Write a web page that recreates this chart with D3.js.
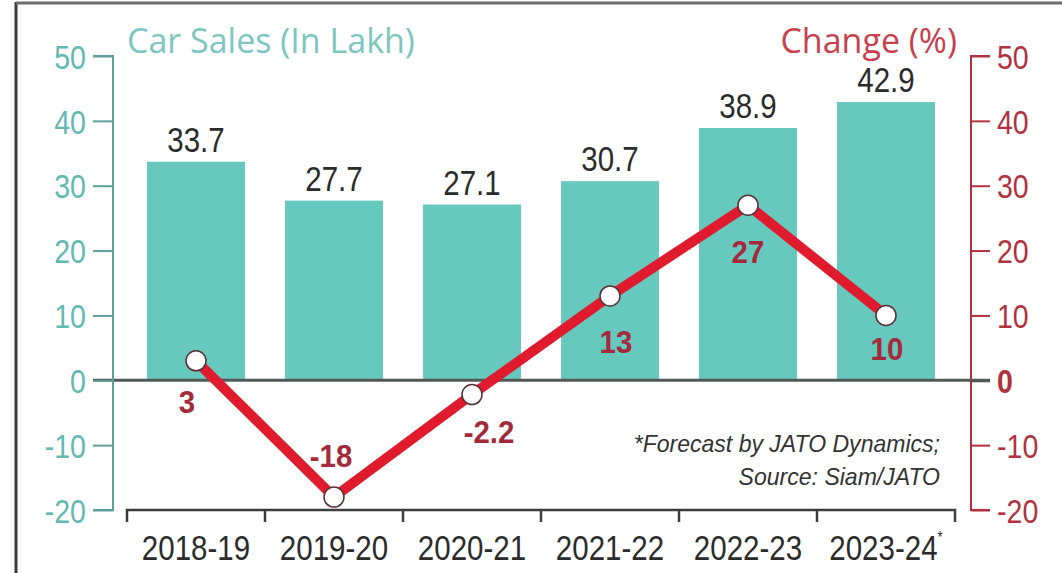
<!DOCTYPE html>
<html>
<head>
<meta charset="utf-8">
<script src="https://cdn.jsdelivr.net/npm/d3@7"></script>
<style>
  html, body { margin: 0; padding: 0; background: #fff; }
  svg { display: block; }
</style>
</head>
<body>
<svg id="chart" width="1062" height="573"></svg>
<script>
// ---- data ----
const categories = ["2018-19", "2019-20", "2020-21", "2021-22", "2022-23", "2023-24"];
const sales = [33.7, 27.7, 27.1, 30.7, 38.9, 42.9];
const change = [3, -18, -2.2, 13, 27, 10];
const changeLabels = ["3", "-18", "-2.2", "13", "27", "10"];
const yTicks = [-20, -10, 0, 10, 20, 30, 40, 50];
const forecastMark = [false, false, false, false, false, true];

// ---- styles / layout ----
const W = 1062, H = 573;
const SANS = '"Liberation Sans", Arial, sans-serif';
const TITLE_FONT = '"Open Sans", sans-serif';
const TEAL = "#67c8bd", TEAL_TXT = "#62b9b1", TEAL_AXIS = "#5f9e9c";
const RED = "#e11b2e", RED_TXT = "#a32a3b", RED_AXIS = "#b2313f", RED_TITLE = "#c8404e";
const DARK = "#2b2b2b";
// label offsets relative to each point (style, px)
const labelOffsets = [[-9, 52], [-3, -30], [17, 48], [6, 57], [0, 58], [1, 45]];

// condense text horizontally (emulates a narrow typeface)
function condense(sel, s) {
  sel.each(function () {
    const t = d3.select(this);
    const x = +t.attr("x") || 0, y = +t.attr("y") || 0;
    t.attr("x", 0).attr("y", 0).attr("transform", `translate(${x},${y}) scale(${s},1)`);
  });
}

const svg = d3.select("#chart");

// frame lines
svg.append("line").attr("x1", 16).attr("x2", 16).attr("y1", 2).attr("y2", H).attr("stroke", "#3a3a3a").attr("stroke-width", 3);
svg.append("line").attr("x1", 16).attr("x2", W).attr("y1", 3).attr("y2", 3).attr("stroke", "#6a6a6a").attr("stroke-width", 3);

const x = d3.scaleBand().domain(categories).range([127, 955]).paddingInner(0.29).paddingOuter(0.145);
const y = d3.scaleLinear().domain([-20, 50]).range([510, 56]);
const step = x.step();

// bars
svg.append("g").selectAll("rect").data(categories).join("rect")
  .attr("x", d => x(d))
  .attr("width", x.bandwidth())
  .attr("y", (d, i) => y(sales[i]))
  .attr("height", (d, i) => y(0) - y(sales[i]))
  .attr("fill", TEAL);

// bar value labels
svg.append("g").selectAll("text").data(categories).join("text")
  .attr("x", d => x(d) + x.bandwidth() / 2)
  .attr("y", (d, i) => y(sales[i]) - 10)
  .attr("text-anchor", "middle")
  .attr("font-family", SANS)
  .attr("font-size", 36)
  .attr("fill", DARK)
  .text((d, i) => sales[i].toFixed(1))
  .call(condense, 0.82);

// zero line
svg.append("line").attr("x1", 93).attr("x2", 990).attr("y1", y(0)).attr("y2", y(0))
  .attr("stroke", "#505858").attr("stroke-width", 3);

// left axis
const leftAxis = d3.axisLeft(y).tickValues(yTicks).tickSize(20).tickPadding(7).tickFormat(d3.format("d"));
const gl = svg.append("g").attr("transform", "translate(113,0)").call(leftAxis);
gl.select(".domain").attr("stroke", TEAL_AXIS).attr("stroke-width", 2).attr("d", `M-20,${y(50)}H0V${y(-20)}H-20`);
gl.selectAll(".tick line").attr("stroke", TEAL_AXIS).attr("stroke-width", 2);
gl.selectAll(".tick text").attr("font-family", SANS).attr("font-size", 34).attr("fill", TEAL_TXT).attr("dy", "0.36em")
  .text(d => d < 0 ? "-" + Math.abs(d) : d)
  .call(condense, 0.84);

// right axis
const rightAxis = d3.axisRight(y).tickValues(yTicks).tickSize(19).tickPadding(7).tickFormat(d3.format("d"));
const gr = svg.append("g").attr("transform", "translate(971,0)").call(rightAxis);
gr.select(".domain").attr("stroke", RED_AXIS).attr("stroke-width", 2).attr("d", `M19,${y(50)}H0V${y(-20)}H19`);
gr.selectAll(".tick line").attr("stroke", RED_AXIS).attr("stroke-width", 2);
gr.selectAll(".tick").filter(d => d === 0).select("line").attr("stroke", "#505858").attr("stroke-width", 3);
gr.selectAll(".tick text").attr("font-family", SANS).attr("font-size", 34).attr("fill", RED_AXIS).attr("dy", "0.36em")
  .attr("font-weight", d => d === 0 ? "bold" : null)
  .text(d => d < 0 ? "-" + Math.abs(d) : d)
  .call(condense, 0.84);

// bottom axis (ticks between categories)
const boundaries = categories.map(c => x(c) - step * 0.145).concat([x(categories[categories.length - 1]) - step * 0.145 + step]);
const gb = svg.append("g");
gb.append("path")
  .attr("d", `M${boundaries[0]},${y(-20) + 12}V${y(-20)}H${boundaries[boundaries.length - 1]}V${y(-20) + 12}`)
  .attr("fill", "none").attr("stroke", "#3d3d3d").attr("stroke-width", 2.5);
gb.selectAll("line").data(boundaries.slice(1, -1)).join("line")
  .attr("x1", d => d).attr("x2", d => d).attr("y1", y(-20)).attr("y2", y(-20) + 12)
  .attr("stroke", "#3d3d3d").attr("stroke-width", 2.5);
const xl = gb.selectAll("text").data(categories).join("text")
  .attr("x", d => x(d) + x.bandwidth() / 2)
  .attr("y", 560)
  .attr("text-anchor", "middle")
  .attr("font-family", SANS)
  .attr("font-size", 36)
  .attr("fill", DARK);
xl.append("tspan").text(d => d);
xl.filter((d, i) => forecastMark[i]).append("tspan").attr("font-size", 16).attr("dy", -17).text("*");
xl.call(condense, 0.82);

// change line
const cx = (d, i) => x(categories[i]) + x.bandwidth() / 2;
const line = d3.line().x((d, i) => cx(d, i)).y(d => y(d));
svg.append("path").datum(change).attr("d", line)
  .attr("fill", "none").attr("stroke", RED).attr("stroke-width", 10).attr("stroke-linejoin", "miter");
svg.append("g").selectAll("circle").data(change).join("circle")
  .attr("cx", cx).attr("cy", d => y(d)).attr("r", 10)
  .attr("fill", "#fff").attr("stroke", "#5a3038").attr("stroke-width", 1.5);

// change labels
svg.append("g").selectAll("text").data(change).join("text")
  .attr("x", (d, i) => cx(d, i) + labelOffsets[i][0])
  .attr("y", (d, i) => y(d) + labelOffsets[i][1])
  .attr("text-anchor", "middle")
  .attr("font-family", SANS)
  .attr("font-weight", "bold")
  .attr("font-size", 31)
  .attr("fill", RED_TXT)
  .text((d, i) => changeLabels[i])
  .call(condense, 0.95);

// titles
svg.append("text").attr("x", 127).attr("y", 53)
  .attr("font-family", TITLE_FONT).attr("font-size", 34)
  .attr("fill", "#7cc6bf").text("Car Sales (In Lakh)");
svg.append("text").attr("x", 957).attr("y", 53).attr("text-anchor", "end")
  .attr("font-family", TITLE_FONT).attr("font-size", 34)
  .attr("fill", RED_TITLE).text("Change (%)");

// footnote
const fn = svg.append("g").attr("font-family", SANS).attr("font-style", "italic").attr("font-size", 24).attr("fill", "#333").attr("text-anchor", "end");
fn.append("text").attr("x", 940).attr("y", 452).text("*Forecast by JATO Dynamics;").call(condense, 0.96);
fn.append("text").attr("x", 940).attr("y", 485).text("Source: Siam/JATO").call(condense, 0.96);
</script>
</body>
</html>
